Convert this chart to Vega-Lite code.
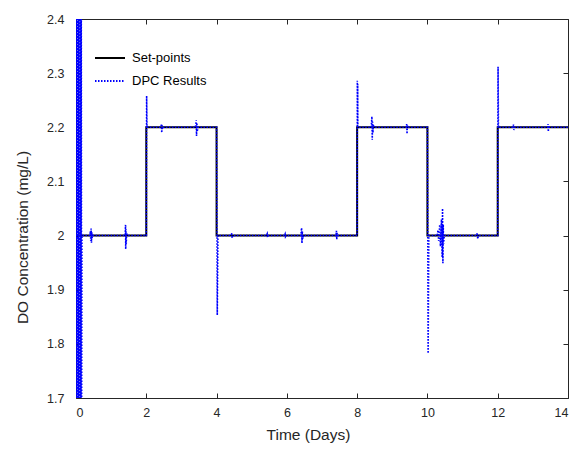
{
  "$schema": "https://vega.github.io/schema/vega-lite/v6.json",
  "width": 492,
  "height": 379,
  "autosize": {"type": "none"},
  "padding": {"left": 76, "top": 19, "right": 16, "bottom": 57},
  "background": "white",
  "config": {
    "font": "Liberation Sans",
    "view": {"stroke": "#262626", "strokeWidth": 1},
    "axis": {
      "grid": false,
      "domain": false,
      "labelFont": "Liberation Sans",
      "labelFontSize": 12.5,
      "labelColor": "#262626",
      "tickColor": "#262626",
      "tickSize": -5,
      "titleFont": "Liberation Sans",
      "titleFontSize": 15.5,
      "titleFontWeight": "normal",
      "titleColor": "#262626"
    },
    "legend": {
      "orient": "none",
      "legendX": 18,
      "legendY": 23,
      "title": null,
      "symbolType": "stroke",
      "symbolSize": 900,
      "symbolStrokeWidth": 2,
      "labelFont": "Liberation Sans",
      "labelFontSize": 13,
      "labelColor": "black",
      "labelOffset": 6,
      "rowPadding": -7
    }
  },
  "datasets": {
    "setpoints": [
      {"i": 0, "t": 0, "v": 2.0, "series": "Set-points"},
      {"i": 1, "t": 2, "v": 2.0, "series": "Set-points"},
      {"i": 2, "t": 2, "v": 2.2, "series": "Set-points"},
      {"i": 3, "t": 4, "v": 2.2, "series": "Set-points"},
      {"i": 4, "t": 4, "v": 2.0, "series": "Set-points"},
      {"i": 5, "t": 8, "v": 2.0, "series": "Set-points"},
      {"i": 6, "t": 8, "v": 2.2, "series": "Set-points"},
      {"i": 7, "t": 10, "v": 2.2, "series": "Set-points"},
      {"i": 8, "t": 10, "v": 2.0, "series": "Set-points"},
      {"i": 9, "t": 12, "v": 2.0, "series": "Set-points"},
      {"i": 10, "t": 12, "v": 2.2, "series": "Set-points"},
      {"i": 11, "t": 14, "v": 2.2, "series": "Set-points"}
    ],
    "dpc": [
      {"t": 0.00, "v": 1.6, "series": "DPC Results"},
      {"t": 0.01, "v": 2.5, "series": "DPC Results"},
      {"t": 0.02, "v": 1.6, "series": "DPC Results"},
      {"t": 0.03, "v": 2.5, "series": "DPC Results"},
      {"t": 0.04, "v": 1.6, "series": "DPC Results"},
      {"t": 0.05, "v": 2.5, "series": "DPC Results"},
      {"t": 0.06, "v": 1.6, "series": "DPC Results"},
      {"t": 0.07, "v": 2.5, "series": "DPC Results"},
      {"t": 0.08, "v": 1.6, "series": "DPC Results"},
      {"t": 0.09, "v": 2.5, "series": "DPC Results"},
      {"t": 0.10, "v": 1.6, "series": "DPC Results"},
      {"t": 0.11, "v": 2.5, "series": "DPC Results"},
      {"t": 0.12, "v": 1.6, "series": "DPC Results"},
      {"t": 0.13, "v": 2.5, "series": "DPC Results"},
      {"t": 0.14, "v": 1.6, "series": "DPC Results"},
      {"t": 0.15, "v": 2.5, "series": "DPC Results"},
      {"t": 0.16, "v": 1.62, "series": "DPC Results"},
      {"t": 0.17, "v": 2.0, "series": "DPC Results"},
      {"t": 0.40, "v": 2.0, "series": "DPC Results"},
      {"t": 0.41, "v": 2.008, "series": "DPC Results"},
      {"t": 0.42, "v": 1.99, "series": "DPC Results"},
      {"t": 0.43, "v": 2.013, "series": "DPC Results"},
      {"t": 0.44, "v": 1.987, "series": "DPC Results"},
      {"t": 0.45, "v": 2.006, "series": "DPC Results"},
      {"t": 0.46, "v": 1.996, "series": "DPC Results"},
      {"t": 0.48, "v": 2.0, "series": "DPC Results"},
      {"t": 1.40, "v": 2.0, "series": "DPC Results"},
      {"t": 1.41, "v": 2.02, "series": "DPC Results"},
      {"t": 1.415, "v": 1.975, "series": "DPC Results"},
      {"t": 1.42, "v": 2.012, "series": "DPC Results"},
      {"t": 1.43, "v": 1.985, "series": "DPC Results"},
      {"t": 1.44, "v": 2.005, "series": "DPC Results"},
      {"t": 1.46, "v": 2.0, "series": "DPC Results"},
      {"t": 2.00, "v": 2.0, "series": "DPC Results"},
      {"t": 2.01, "v": 2.258, "series": "DPC Results"},
      {"t": 2.02, "v": 2.2, "series": "DPC Results"},
      {"t": 2.42, "v": 2.2, "series": "DPC Results"},
      {"t": 2.43, "v": 2.206, "series": "DPC Results"},
      {"t": 2.44, "v": 2.19, "series": "DPC Results"},
      {"t": 2.45, "v": 2.204, "series": "DPC Results"},
      {"t": 2.46, "v": 2.197, "series": "DPC Results"},
      {"t": 2.48, "v": 2.2, "series": "DPC Results"},
      {"t": 3.40, "v": 2.2, "series": "DPC Results"},
      {"t": 3.42, "v": 2.213, "series": "DPC Results"},
      {"t": 3.43, "v": 2.184, "series": "DPC Results"},
      {"t": 3.44, "v": 2.208, "series": "DPC Results"},
      {"t": 3.45, "v": 2.192, "series": "DPC Results"},
      {"t": 3.47, "v": 2.2, "series": "DPC Results"},
      {"t": 4.00, "v": 2.2, "series": "DPC Results"},
      {"t": 4.02, "v": 1.853, "series": "DPC Results"},
      {"t": 4.04, "v": 2.0, "series": "DPC Results"},
      {"t": 4.42, "v": 2.0, "series": "DPC Results"},
      {"t": 4.43, "v": 2.005, "series": "DPC Results"},
      {"t": 4.44, "v": 1.995, "series": "DPC Results"},
      {"t": 4.46, "v": 2.0, "series": "DPC Results"},
      {"t": 5.42, "v": 2.0, "series": "DPC Results"},
      {"t": 5.44, "v": 2.003, "series": "DPC Results"},
      {"t": 5.45, "v": 1.997, "series": "DPC Results"},
      {"t": 5.47, "v": 2.0, "series": "DPC Results"},
      {"t": 5.93, "v": 2.0, "series": "DPC Results"},
      {"t": 5.95, "v": 2.003, "series": "DPC Results"},
      {"t": 5.96, "v": 1.998, "series": "DPC Results"},
      {"t": 5.98, "v": 2.0, "series": "DPC Results"},
      {"t": 6.40, "v": 2.0, "series": "DPC Results"},
      {"t": 6.42, "v": 2.014, "series": "DPC Results"},
      {"t": 6.43, "v": 1.986, "series": "DPC Results"},
      {"t": 6.44, "v": 2.008, "series": "DPC Results"},
      {"t": 6.45, "v": 1.994, "series": "DPC Results"},
      {"t": 6.47, "v": 2.0, "series": "DPC Results"},
      {"t": 7.40, "v": 2.0, "series": "DPC Results"},
      {"t": 7.41, "v": 2.009, "series": "DPC Results"},
      {"t": 7.42, "v": 1.993, "series": "DPC Results"},
      {"t": 7.43, "v": 2.005, "series": "DPC Results"},
      {"t": 7.45, "v": 2.0, "series": "DPC Results"},
      {"t": 8.00, "v": 2.0, "series": "DPC Results"},
      {"t": 8.005, "v": 2.286, "series": "DPC Results"},
      {"t": 8.01, "v": 2.2, "series": "DPC Results"},
      {"t": 8.015, "v": 2.28, "series": "DPC Results"},
      {"t": 8.02, "v": 2.2, "series": "DPC Results"},
      {"t": 8.40, "v": 2.2, "series": "DPC Results"},
      {"t": 8.42, "v": 2.22, "series": "DPC Results"},
      {"t": 8.43, "v": 2.177, "series": "DPC Results"},
      {"t": 8.44, "v": 2.21, "series": "DPC Results"},
      {"t": 8.45, "v": 2.19, "series": "DPC Results"},
      {"t": 8.46, "v": 2.205, "series": "DPC Results"},
      {"t": 8.48, "v": 2.2, "series": "DPC Results"},
      {"t": 9.40, "v": 2.2, "series": "DPC Results"},
      {"t": 9.41, "v": 2.206, "series": "DPC Results"},
      {"t": 9.42, "v": 2.188, "series": "DPC Results"},
      {"t": 9.43, "v": 2.203, "series": "DPC Results"},
      {"t": 9.45, "v": 2.2, "series": "DPC Results"},
      {"t": 10.00, "v": 2.2, "series": "DPC Results"},
      {"t": 10.02, "v": 1.7825, "series": "DPC Results"},
      {"t": 10.04, "v": 2.0, "series": "DPC Results"},
      {"t": 10.28, "v": 2.0, "series": "DPC Results"},
      {"t": 10.30, "v": 2.01, "series": "DPC Results"},
      {"t": 10.32, "v": 1.99, "series": "DPC Results"},
      {"t": 10.35, "v": 2.02, "series": "DPC Results"},
      {"t": 10.37, "v": 1.98, "series": "DPC Results"},
      {"t": 10.40, "v": 2.03, "series": "DPC Results"},
      {"t": 10.42, "v": 1.96, "series": "DPC Results"},
      {"t": 10.43, "v": 2.05, "series": "DPC Results"},
      {"t": 10.44, "v": 1.949, "series": "DPC Results"},
      {"t": 10.45, "v": 2.02, "series": "DPC Results"},
      {"t": 10.46, "v": 1.985, "series": "DPC Results"},
      {"t": 10.48, "v": 2.0, "series": "DPC Results"},
      {"t": 11.40, "v": 2.0, "series": "DPC Results"},
      {"t": 11.42, "v": 2.005, "series": "DPC Results"},
      {"t": 11.43, "v": 1.994, "series": "DPC Results"},
      {"t": 11.45, "v": 2.0, "series": "DPC Results"},
      {"t": 12.00, "v": 2.0, "series": "DPC Results"},
      {"t": 12.01, "v": 2.312, "series": "DPC Results"},
      {"t": 12.02, "v": 2.2, "series": "DPC Results"},
      {"t": 12.43, "v": 2.2, "series": "DPC Results"},
      {"t": 12.45, "v": 2.205, "series": "DPC Results"},
      {"t": 12.46, "v": 2.195, "series": "DPC Results"},
      {"t": 12.48, "v": 2.2, "series": "DPC Results"},
      {"t": 13.42, "v": 2.2, "series": "DPC Results"},
      {"t": 13.43, "v": 2.206, "series": "DPC Results"},
      {"t": 13.44, "v": 2.192, "series": "DPC Results"},
      {"t": 13.45, "v": 2.203, "series": "DPC Results"},
      {"t": 13.47, "v": 2.2, "series": "DPC Results"},
      {"t": 14.00, "v": 2.2, "series": "DPC Results"}
    ]
  },
  "layer": [
    {
      "data": {"name": "setpoints"},
      "mark": {"type": "line", "clip": true, "strokeWidth": 2},
      "encoding": {
        "x": {
          "field": "t", "type": "quantitative",
          "scale": {"domain": [0, 14], "nice": false, "zero": false},
          "axis": {
            "orient": "bottom",
            "values": [0, 2, 4, 6, 8, 10, 12, 14],
            "labelPadding": 13,
            "title": "Time (Days)",
            "titleX": 232,
            "titleY": 36,
            "titleBaseline": "middle"
          }
        },
        "y": {
          "field": "v", "type": "quantitative",
          "scale": {"domain": [1.7, 2.4], "nice": false, "zero": false},
          "axis": {
            "orient": "left",
            "values": [1.7, 1.8, 1.9, 2, 2.1, 2.2, 2.3, 2.4],
            "format": "~g",
            "labelPadding": 17,
            "title": "DO Concentration (mg/L)",
            "titleX": -54,
            "titleY": 218,
            "titleBaseline": "middle"
          }
        },
        "order": {"field": "i", "type": "quantitative"},
        "color": {
          "field": "series", "type": "nominal",
          "scale": {"domain": ["Set-points", "DPC Results"], "range": ["#000000", "#0000ff"]}
        },
        "strokeDash": {
          "field": "series", "type": "nominal",
          "scale": {"domain": ["Set-points", "DPC Results"], "range": [[1, 0], [1.5, 1.5]]}
        }
      }
    },
    {
      "data": {"name": "dpc"},
      "mark": {"type": "line", "clip": true, "strokeWidth": 1.6, "strokeCap": "butt"},
      "encoding": {
        "x": {
          "field": "t", "type": "quantitative",
          "axis": {
            "orient": "top",
            "values": [0, 2, 4, 6, 8, 10, 12, 14],
            "labels": false,
            "title": null
          }
        },
        "y": {
          "field": "v", "type": "quantitative",
          "axis": {
            "orient": "right",
            "values": [1.7, 1.8, 1.9, 2, 2.1, 2.2, 2.3, 2.4],
            "labels": false,
            "title": null
          }
        },
        "color": {"field": "series", "type": "nominal"},
        "strokeDash": {"field": "series", "type": "nominal"}
      }
    }
  ],
  "resolve": {"axis": {"x": "independent", "y": "independent"}}
}
